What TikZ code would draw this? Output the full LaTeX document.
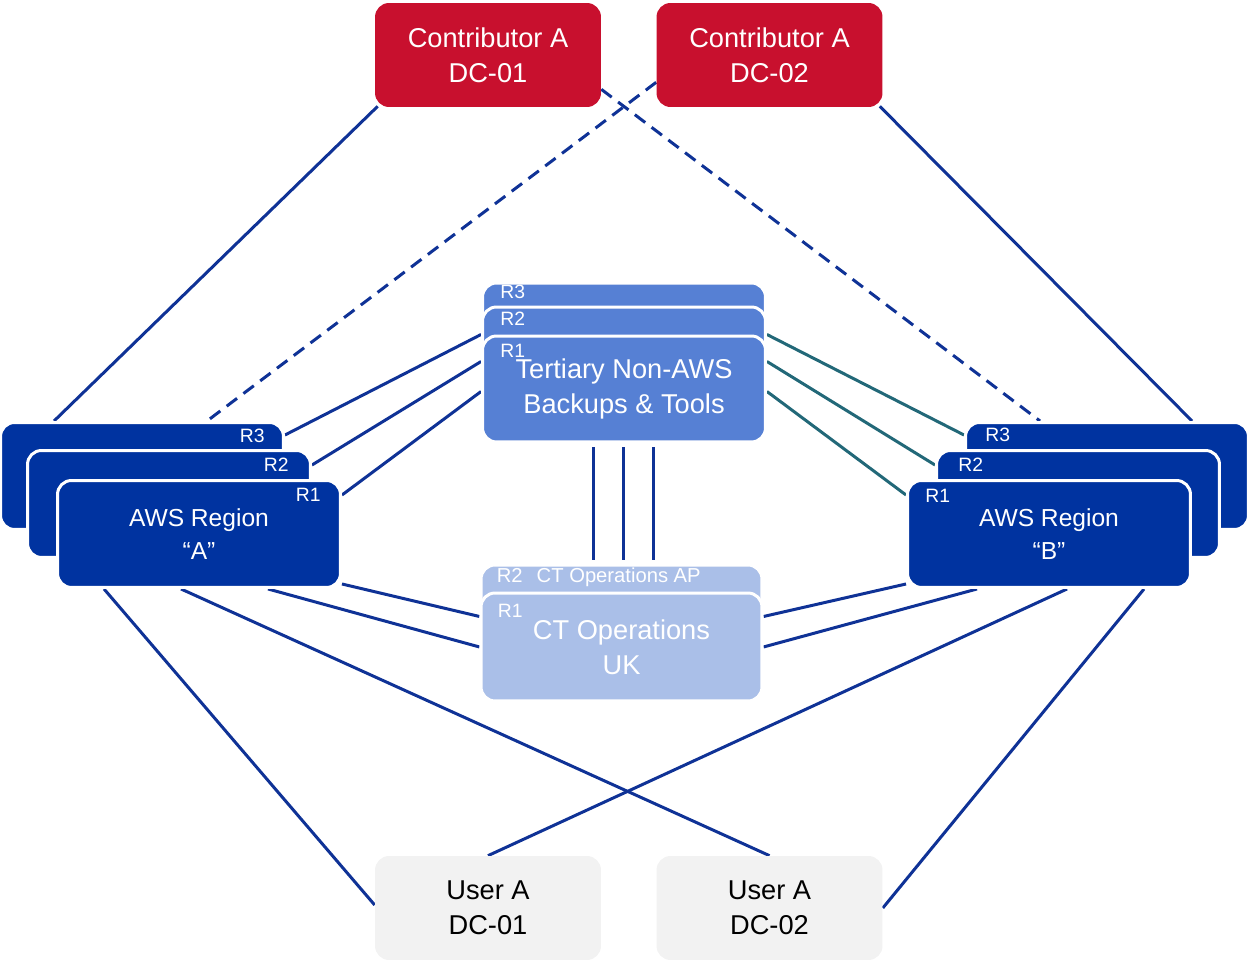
\documentclass[tikz,border=0pt]{standalone}
\usepackage{fontspec}
\setmainfont{Liberation Sans}
\usetikzlibrary{calc,backgrounds}
\definecolor{ctred}{RGB}{200,16,46}
\definecolor{awsblue}{RGB}{0,51,160}
\definecolor{tertblue}{RGB}{86,128,212}
\definecolor{opsblue}{RGB}{170,191,232}
\definecolor{usergray}{RGB}{242,242,242}
\definecolor{linkblue}{RGB}{15,50,150}
\definecolor{linkteal}{RGB}{34,104,120}

\begin{document}
\begin{tikzpicture}[
    x=0.02cm, y=-0.02cm,
    box/.style={rounded corners=0.28cm, align=center, inner sep=0pt,
      font=\fontsize{15.5}{20}\selectfont},
    site/.style={box, fill=ctred, text=white,
      minimum width=4.52cm, minimum height=2.08cm},
    user/.style={box, fill=usergray, text=black,
      minimum width=4.52cm, minimum height=2.08cm},
    region/.style={box, fill=awsblue, draw=white, line width=0.06cm, text=white,
      minimum width=5.66cm, minimum height=2.14cm,
      font=\fontsize{14}{18.5}\selectfont},
    tert/.style={box, fill=tertblue, draw=white, line width=0.06cm, text=white,
      minimum width=5.66cm, minimum height=2.12cm},
    ops/.style={box, fill=opsblue, draw=white, line width=0.06cm, text=white,
      minimum width=5.62cm, minimum height=2.16cm},
    rtag/.style={text=white, inner sep=0pt, font=\fontsize{11}{12}\selectfont},
    link/.style={draw=linkblue, line width=0.06cm},
    tealink/.style={draw=linkteal, line width=0.06cm},
    dashlink/.style={link, dash pattern=on 0.26cm off 0.16cm}
  ]
  \useasboundingbox (0,0) rectangle (1249,962);

  % Contributor sites
  \node[site] (c1) at (488,55) {Contributor A\\DC-01};
  \node[site] (c2) at (769.5,55) {Contributor A\\DC-02};

  % User sites
  \node[user] (u1) at (488,908) {User A\\DC-01};
  \node[user] (u2) at (769.5,908) {User A\\DC-02};

  % AWS Region A
  \begin{scope}
    \node[region] (aR3) at (142,476) {};
    \node[region] (aR2) at (169,504) {};
    \node[region] (aR1) at (199,534) {AWS Region\\``A''};
    \node[rtag, anchor=east] (aR3t) at ($(aR3.north east)+(-20,15)$) {R3};
    \node[rtag, anchor=east] (aR2t) at ($(aR2.north east)+(-23,16)$) {R2};
    \node[rtag, anchor=east] (aR1t) at ($(aR1.north east)+(-21,16)$) {R1};
  \end{scope}

  % AWS Region B
  \begin{scope}
    \node[region] (bR3) at (1107,476) {};
    \node[region] (bR2) at (1078,504) {};
    \node[region] (bR1) at (1049,534) {AWS Region\\``B''};
    \node[rtag, anchor=west] (bR3t) at ($(bR3.north west)+(21,14)$) {R3};
    \node[rtag, anchor=west] (bR2t) at ($(bR2.north west)+(23,16)$) {R2};
    \node[rtag, anchor=west] (bR1t) at ($(bR1.north west)+(19,17)$) {R1};
  \end{scope}

  % Tertiary stack
  \begin{scope}
    \node[tert] (tR3) at (624,336) {};
    \node[tert] (tR2) at (624,360) {};
    \node[tert] (tR1) at (624,389) {Tertiary Non-AWS\\Backups \& Tools};
    \node[rtag, anchor=west] (tR3t) at ($(tR3.north west)+(19,10)$) {R3};
    \node[rtag, anchor=west] (tR2t) at ($(tR2.north west)+(19,13)$) {R2};
    \node[rtag, anchor=west] (tR1t) at ($(tR1.north west)+(19,16)$) {R1};
  \end{scope}

  % CT Operations
  \begin{scope}
    \node[ops] (cR2) at (621.5,619) {};
    \node[ops] (cR1) at (621.5,647) {CT Operations\\UK};
    \node[rtag, anchor=west, font=\fontsize{11.5}{12}\selectfont] (cR2t)
      at ($(cR2.north west)+(17,14)$) {R2\hspace{8pt}CT Operations AP};
    \node[rtag, anchor=west] (cR1t) at ($(cR1.north west)+(18,19)$) {R1};
  \end{scope}

  \begin{scope}[on background layer]
    % Contributors to regions
    \draw[link] ($(c1.south west)+(3,-1)$) -- ($(aR3.north west)+(55,0)$);
    \draw[link] ($(c2.south east)+(-3,-1)$) -- ($(bR3.north west)+(228,0)$);
    \draw[dashlink] ($(c1.south east)+(0,-18)$) -- ($(bR3.north west)+(76,0)$);
    \draw[dashlink] ($(c2.south west)+(0,-25)$) -- ($(aR3.north west)+(208,0)$);

    % Regions to tertiary
    \draw[link] ($(aR3.north east)+(0,14)$) -- (tR1.north west);
    \draw[link] ($(aR2.north east)+(0,16)$) -- ($(tR1.north west)+(0,27)$);
    \draw[link] ($(aR1.north east)+(0,16)$) -- ($(tR1.north west)+(0,57)$);
    \draw[tealink] ($(bR3.north west)+(0,14)$) -- (tR1.north east);
    \draw[tealink] ($(bR2.north west)+(0,16)$) -- ($(tR1.north east)+(0,27)$);
    \draw[tealink] ($(bR1.north west)+(0,16)$) -- ($(tR1.north east)+(0,57)$);

    % Tertiary to CT Operations
    \foreach \dx [count=\i] in {-31,-1,29}
      \draw[link, shorten <=0.08cm, shorten >=0.08cm]
        ($(tR1.south)+(\dx,0)$) coordinate (v\i) -- (v\i |- cR2.north);

    % Regions to CT Operations
    \draw[link] ($(aR1.south east)+(0,-5)$) -- ($(cR1.north west)+(0,25)$);
    \draw[link] ($(aR1.south)+(69,0)$) -- (cR1.west);
    \draw[link] ($(bR1.south west)+(0,-5)$) -- ($(cR1.north east)+(0,25)$);
    \draw[link] ($(bR1.south)+(-72,0)$) -- (cR1.east);

    % Regions to users
    \draw[link] ($(aR1.south west)+(48,0)$) -- ($(u1.west)+(0,-3)$);
    \draw[link] ($(aR1.south west)+(125,0)$) -- (u2.north);
    \draw[link] ($(bR1.south west)+(161,0)$) -- (u1.north);
    \draw[link] ($(bR1.south west)+(238,0)$) -- (u2.east);
  \end{scope}
\end{tikzpicture}
\end{document}
